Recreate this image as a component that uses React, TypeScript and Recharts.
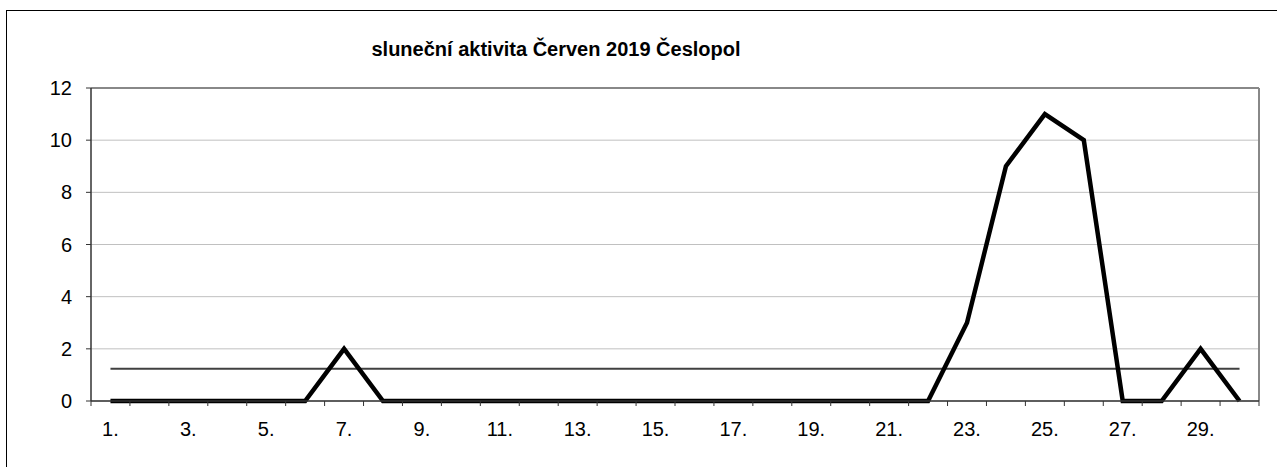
import { LineChart, Line, XAxis, YAxis, CartesianGrid, ReferenceLine } from 'recharts';

// June 2019, days of the month
const days = [
  1, 2, 3, 4, 5, 6, 7, 8, 9, 10, 11, 12, 13, 14, 15,
  16, 17, 18, 19, 20, 21, 22, 23, 24, 25, 26, 27, 28, 29, 30,
];

// solar activity per day
const activity = [
  0, 0, 0, 0, 0, 0, 2, 0, 0, 0, 0, 0, 0, 0, 0,
  0, 0, 0, 0, 0, 0, 0, 3, 9, 11, 10, 0, 0, 2, 0,
];

const yTicks = [0, 2, 4, 6, 8, 10, 12];
const labeledDays = [1, 3, 5, 7, 9, 11, 13, 15, 17, 19, 21, 23, 25, 27, 29];

const title = 'sluneční aktivita Červen 2019 Česlopol';

const data = days.map((day, i) => ({ day, value: activity[i] }));
const mean = activity.reduce((a, b) => a + b, 0) / activity.length;

// tick marks sit between days, labels on every other day
const boundaries = days.map((d) => d - 0.5).concat(days[days.length - 1] + 0.5);
const xTicks = [...boundaries, ...labeledDays].sort((a, b) => a - b);

const font = '"Liberation Sans", Arial, sans-serif';

function DayTick(props: any) {
  const { x, y, payload } = props;
  const v = payload.value as number;
  if (!Number.isInteger(v)) {
    return <line x1={x} y1={y} x2={x} y2={y + 5} stroke="#333" strokeWidth={1} />;
  }
  if (!labeledDays.includes(v)) return null;
  return (
    <text x={x} y={y + 35} textAnchor="middle" fill="#000" fontSize={20} fontFamily={font}>
      {`${v}.`}
    </text>
  );
}

function App() {
  return (
    <div
      style={{
        position: 'fixed',
        left: 0,
        top: 0,
        width: 1277,
        height: 467,
        overflow: 'hidden',
        background: '#fff',
      }}
    >
      <div
        style={{
          position: 'absolute',
          left: 6,
          top: 10,
          width: 1300,
          height: 500,
          border: '1px solid #000',
          boxSizing: 'border-box',
        }}
      >
        <div
          style={{
            position: 'absolute',
            left: 549,
            top: 27,
            transform: 'translateX(-50%)',
            whiteSpace: 'nowrap',
            fontFamily: font,
            fontWeight: 'bold',
            fontSize: 20,
            color: '#000',
          }}
        >
          {title}
        </div>
        <div style={{ position: 'absolute', left: 0, top: 0 }}>
          <LineChart
            width={1270}
            height={456}
            data={data}
            margin={{ top: 77, right: 18, bottom: 0, left: 0 }}
          >
            <CartesianGrid vertical={false} stroke="#c0c0c0" />
            <XAxis
              dataKey="day"
              type="number"
              domain={[0.5, 30.5]}
              ticks={xTicks}
              interval={0}
              tickLine={false}
              tickSize={0}
              tickMargin={0}
              tick={<DayTick />}
              height={66}
              axisLine={{ stroke: '#333', strokeWidth: 1.5 }}
            />
            <YAxis
              domain={[0, 12]}
              ticks={yTicks}
              interval={0}
              width={84}
              tickSize={5}
              tickMargin={14}
              tickLine={{ stroke: '#333' }}
              axisLine={{ stroke: '#333', strokeWidth: 1.5 }}
              tick={{ fill: '#000', fontSize: 20, fontFamily: font }}
            />
            <ReferenceLine y={12} stroke="#888" strokeWidth={2} />
            <ReferenceLine x={30.5} stroke="#888" strokeWidth={2} />
            <ReferenceLine
              segment={[
                { x: days[0], y: mean },
                { x: days[days.length - 1], y: mean },
              ]}
              stroke="#404040"
              strokeWidth={2}
            />
            <Line
              type="linear"
              dataKey="value"
              stroke="#000"
              strokeWidth={4.5}
              dot={false}
              activeDot={false}
              isAnimationActive={false}
            />
          </LineChart>
        </div>
      </div>
    </div>
  );
}

export default App;
